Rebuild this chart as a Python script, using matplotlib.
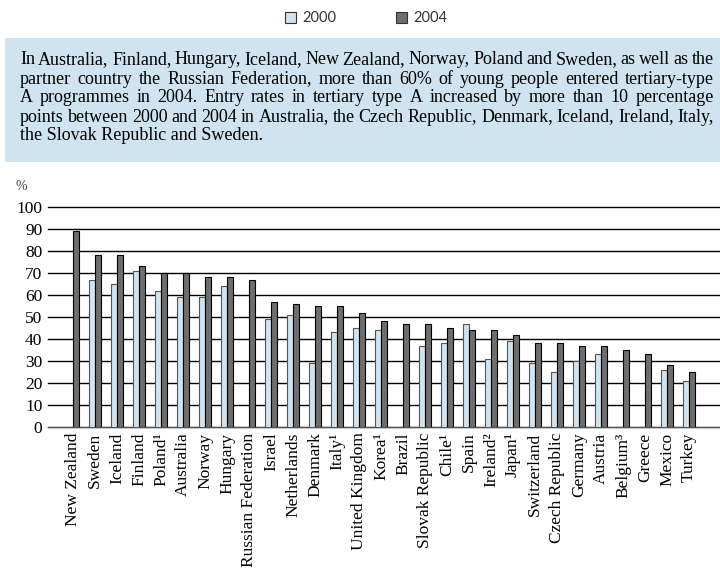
import numpy as np
import matplotlib
matplotlib.use('Agg')
import matplotlib.pyplot as plt
from matplotlib.patches import Rectangle

# Dados
countries = ['New Zealand', 'Sweden', 'Iceland', 'Finland', 'Poland\u00b9', 'Australia',
             'Norway', 'Hungary', 'Russian Federation', 'Israel', 'Netherlands', 'Denmark',
             'Italy\u00b9', 'United Kingdom', 'Korea\u00b9', 'Brazil', 'Slovak Republic',
             'Chile\u00b9', 'Spain', 'Ireland\u00b2', 'Japan\u00b9', 'Switzerland',
             'Czech Republic', 'Germany', 'Austria', 'Belgium\u00b3', 'Greece', 'Mexico', 'Turkey']
rate_2000 = [np.nan, 67, 65, 71, 62, 59, 59, 64, np.nan, 49, 51, 29, 43, 45, 44, np.nan, 37,
             38, 47, 31, 39, 29, 25, 30, 33, np.nan, np.nan, 26, 21]
rate_2004 = [89, 78, 78, 73, 70, 70, 68, 68, 67, 57, 56, 55, 55, 52, 48, 47, 47,
             45, 44, 44, 42, 38, 38, 37, 37, 35, 33, 28, 25]
yticks = list(range(0, 101, 10))

note_lines = [
    'In Australia, Finland, Hungary, Iceland, New Zealand, Norway, Poland and Sweden, as well as the',
    'partner country the Russian Federation, more than 60% of young people entered tertiary-type',
    'A programmes in 2004. Entry rates in tertiary type A increased by more than 10 percentage',
    'points between 2000 and 2004 in Australia, the Czech Republic, Denmark, Iceland, Ireland, Italy,',
    'the Slovak Republic and Sweden.',
]

light = '#d0e3f0'
dark = '#6e6e6e'
serif = 'Liberation Serif'
note_size = 13

fig = plt.figure(figsize=(7.2, 5.73), dpi=100)
W, H = 720, 573

# Caixa de texto azul
fig.patches.append(Rectangle((5 / W, 1 - 162 / H), 715 / W, 124 / H,
                             transform=fig.transFigure, facecolor=light, edgecolor='none', zorder=0))

# Texto justificado, palavra a palavra
renderer = fig.canvas.get_renderer()
x0, x1 = 20, 714
for k, line in enumerate(note_lines):
    yc = 1 - (60 + 19 * k) / H
    words = line.split(' ')
    if k == len(note_lines) - 1:
        fig.text(x0 / W, yc, line, family=serif, fontsize=note_size, va='center', ha='left')
        continue
    widths = []
    for w in words:
        t = fig.text(0, 0, w, family=serif, fontsize=note_size)
        widths.append(t.get_window_extent(renderer).width)
        t.remove()
    gap = (x1 - x0 - sum(widths)) / (len(words) - 1)
    x = x0
    for w, wd in zip(words, widths):
        fig.text(x / W, yc, w, family=serif, fontsize=note_size, va='center', ha='left')
        x += wd + gap

# Legenda manual
for xs, col, lab in [(285, light, '2000'), (396, dark, '2004')]:
    fig.patches.append(Rectangle((xs / W, 1 - 23 / H), 11 / W, 11 / H, transform=fig.transFigure,
                                 facecolor=col, edgecolor='#333333', linewidth=0.8))
    fig.text((xs + 17) / W, 1 - 17.5 / H, lab, family='Lato', fontsize=10.5, va='center',
             ha='left', color='#333333')

# Gráfico
ax = fig.add_axes([48 / W, 1 - 427 / H, 1 - 48 / W, 220 / H])
x = np.arange(len(countries))
w = 0.29
ax.bar(x - w / 2, rate_2000, w, color=light, edgecolor='#555555', linewidth=0.8, zorder=3)
ax.bar(x + w / 2, rate_2004, w, color=dark, edgecolor='black', linewidth=0.8, zorder=3)

ax.set_xlim(-1.14, 29.41)
ax.set_ylim(0, 100)
ax.set_yticks(yticks)
ax.set_yticklabels([str(v) for v in yticks], family=serif, fontsize=12.5)
ax.set_xticks(x)
ax.set_xticklabels(countries, rotation=90, family=serif, fontsize=12.5)
ax.tick_params(length=0, pad=4)
ax.yaxis.grid(True, color='black', linewidth=1, zorder=0, clip_on=False)
for s in ['top', 'right', 'left']:
    ax.spines[s].set_visible(False)
ax.spines['bottom'].set_color('#555555')
ax.set_axisbelow(True)

fig.text(16 / W, 1 - 187 / H, '%', family=serif, fontsize=10, va='center', ha='left', color='#444444')

plt.savefig('out.png', dpi=100)
